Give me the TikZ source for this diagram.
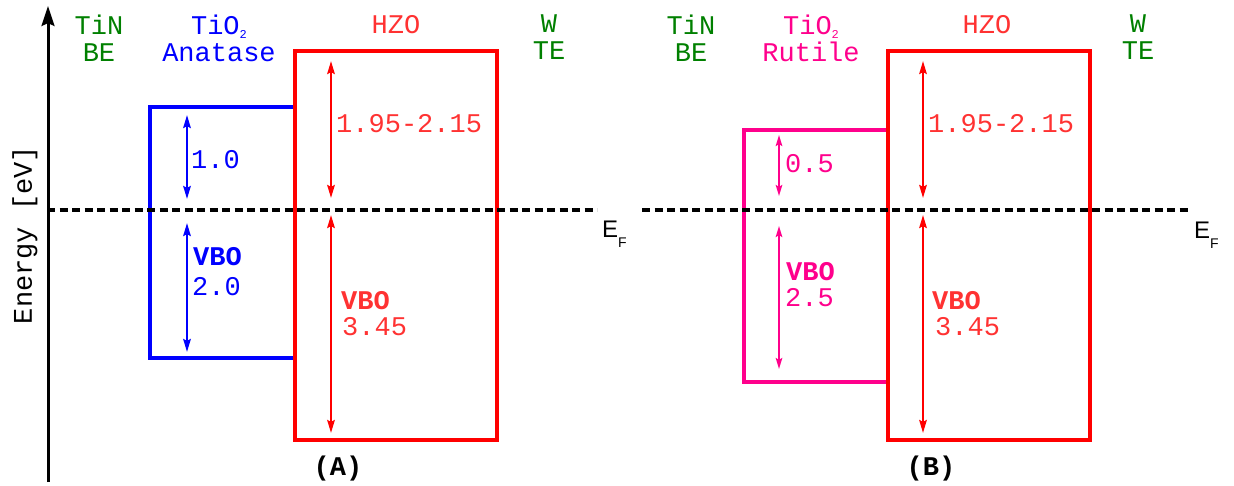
\documentclass[tikz,border=0pt]{standalone}
\usepackage{fontspec}
\usetikzlibrary{arrows.meta}
\newfontfamily\monofam{Liberation Mono}
\newfontfamily\sansfam{Liberation Sans}
\definecolor{tgreen}{RGB}{0,128,0}
\definecolor{tblue}{RGB}{0,0,255}
\definecolor{tred}{RGB}{255,0,0}
\definecolor{tredtxt}{RGB}{255,50,50}
\definecolor{tmag}{RGB}{255,0,140}
\newcommand{\bigmono}{\fontsize{27}{27}\selectfont\monofam}
\newcommand{\subtwo}{\raisebox{-4pt}{\fontsize{12}{12}\selectfont 2}}
\tikzset{
  hdr/.style={inner sep=0pt, anchor=north, align=center, font=\bigmono},
  lbl/.style={inner sep=0pt, anchor=base west, font=\bigmono},
  bandbox/.style={line width=3.5pt},
  dimarrow/.style={{Stealth[length=13pt,width=7.5pt,inset=2pt]}-{Stealth[length=13pt,width=7.5pt,inset=2pt]}, line width=2.4pt},
  smallarrow/.style={{Stealth[length=11pt,width=6.5pt,inset=2pt]}-{Stealth[length=11pt,width=6.5pt,inset=2pt]}, line width=2pt},
  fermi/.style={line width=3.2pt, dash pattern=on 8pt off 4.5pt},
  efl/.style={inner sep=0pt, anchor=base west, font=\fontsize{24}{24}\selectfont\sansfam},
  panel/.style={inner sep=0pt, anchor=base, font=\bigmono\bfseries}
}
\begin{document}
\begin{tikzpicture}[x=1pt,y=-1pt]
\useasboundingbox (0,0) rectangle (1234,485);
% axis
\coordinate (axb) at (48,482);
\coordinate (axt) at (48,6);
\draw[-{Stealth[length=20pt,width=13pt,inset=3pt]}, line width=3pt] (axb) -- (axt);
\node[rotate=90, inner sep=0pt, font=\bigmono] (energy) at (25,235) {Energy [eV]};

% ---------------- panel A ----------------
\node[hdr, text=tgreen] (tinA) at (99,15) {TiN\\BE};
\node[hdr, text=tblue] (tioA) at (219,15) {TiO\subtwo\\Anatase};
\node[hdr, text=tredtxt] (hzoA) at (396,15) {HZO};
\node[hdr, text=tgreen] (wA) at (549,15) {W\\TE};

\draw[bandbox, tblue] (150,107) rectangle (295,358);
\draw[bandbox, tred] (295,51) rectangle (497,440);

\coordinate (bAt1) at (187,115); \coordinate (bAb1) at (187,199);
\coordinate (bAt2) at (187,223); \coordinate (bAb2) at (187,352);
\draw[dimarrow, tblue] (bAt1) -- (bAb1);
\draw[dimarrow, tblue] (bAt2) -- (bAb2);
\coordinate (rAt1) at (331,61); \coordinate (rAb1) at (331,198);
\coordinate (rAt2) at (331,215); \coordinate (rAb2) at (331,433);
\draw[dimarrow, tred] (rAt1) -- (rAb1);
\draw[dimarrow, tred] (rAt2) -- (rAb2);

\node[lbl, text=tblue] (cbA) at (191,168) {1.0};
\node[lbl, text=tblue, font=\bigmono\bfseries] (vboA) at (193,265) {VBO};
\node[lbl, text=tblue] (vbvA) at (192,295) {2.0};
\node[lbl, text=tredtxt] (hcbA) at (336,132) {1.95-2.15};
\node[lbl, text=tredtxt, font=\bigmono\bfseries] (hvboA) at (341,309) {VBO};
\node[lbl, text=tredtxt] (hvbvA) at (342,335) {3.45};

\coordinate (fAl) at (47,210); \coordinate (fAr) at (597,210);
\draw[fermi] (fAl) -- (fAr);
\node[efl] (efA) at (602,237) {E\raisebox{-10pt}{\fontsize{14}{14}\selectfont F}};
\node[panel] (pA) at (338,475) {(A)};

% ---------------- panel B ----------------
\node[hdr, text=tgreen] (tinB) at (691,15) {TiN\\BE};
\node[hdr, text=tmag] (tioB) at (811,15) {TiO\subtwo\\Rutile};
\node[hdr, text=tredtxt] (hzoB) at (987,15) {HZO};
\node[hdr, text=tgreen] (wB) at (1138,15) {W\\TE};

\draw[bandbox, tmag] (744,130) rectangle (888,382);
\draw[bandbox, tred] (888,51) rectangle (1090,440);

\coordinate (mBt1) at (779,135); \coordinate (mBb1) at (779,196);
\coordinate (mBt2) at (779,226); \coordinate (mBb2) at (779,369);
\draw[smallarrow, tmag] (mBt1) -- (mBb1);
\draw[smallarrow, tmag] (mBt2) -- (mBb2);
\coordinate (rBt1) at (923,61); \coordinate (rBb1) at (923,198);
\coordinate (rBt2) at (923,215); \coordinate (rBb2) at (923,433);
\draw[dimarrow, tred] (rBt1) -- (rBb1);
\draw[dimarrow, tred] (rBt2) -- (rBb2);

\node[lbl, text=tmag] (cbB) at (785,172) {0.5};
\node[lbl, text=tmag, font=\bigmono\bfseries] (vboB) at (786,280) {VBO};
\node[lbl, text=tmag] (vbvB) at (785,306) {2.5};
\node[lbl, text=tredtxt] (hcbB) at (928,132) {1.95-2.15};
\node[lbl, text=tredtxt, font=\bigmono\bfseries] (hvboB) at (932,309) {VBO};
\node[lbl, text=tredtxt] (hvbvB) at (935,335) {3.45};

\coordinate (fBl) at (642,210); \coordinate (fBr) at (1190,210);
\draw[fermi] (fBl) -- (fBr);
\node[efl] (efB) at (1194,238) {E\raisebox{-10pt}{\fontsize{14}{14}\selectfont F}};
\node[panel] (pB) at (931,475) {(B)};
\end{tikzpicture}
\end{document}
